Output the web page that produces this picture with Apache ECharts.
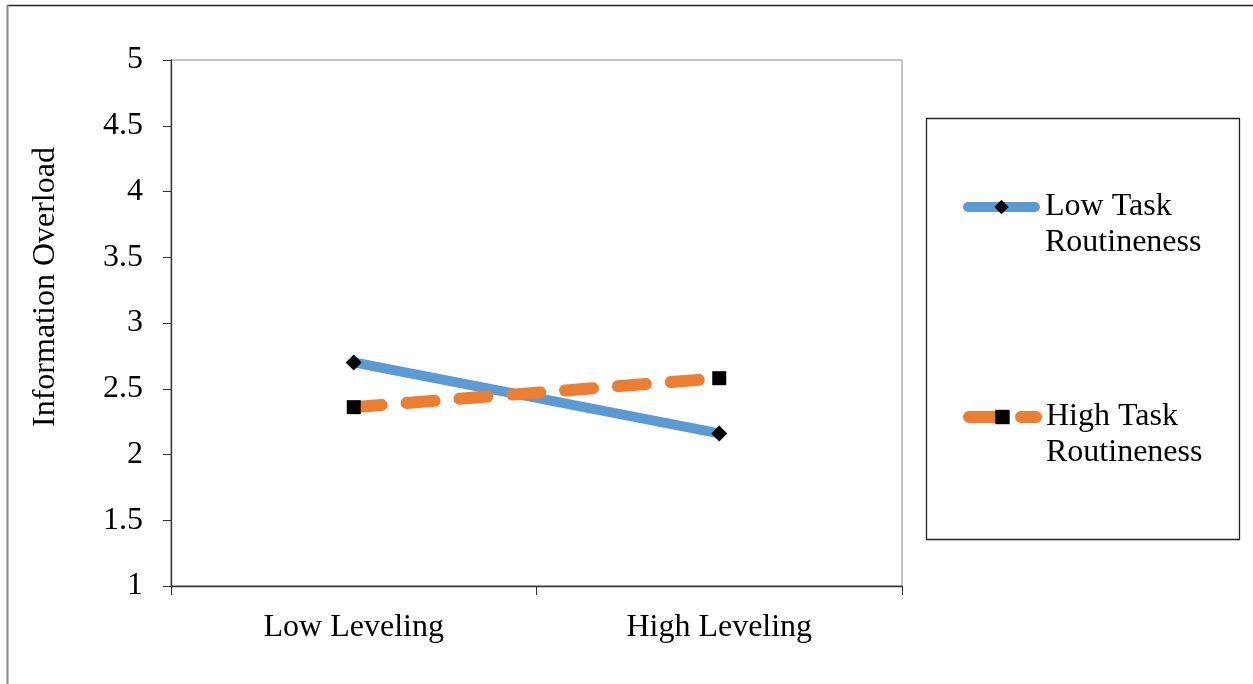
<!DOCTYPE html>
<html>
<head>
<meta charset="utf-8">
<script src="https://cdn.jsdelivr.net/npm/echarts@6/dist/echarts.min.js"></script>
<style>html,body{margin:0;padding:0;background:#fff;}#c{width:1253px;height:684px;}</style>
</head>
<body>
<div id="c"></div>
<script>
var categories = ['Low Leveling', 'High Leveling'];
var lowTaskRoutineness = [2.70, 2.16];
var highTaskRoutineness = [2.36, 2.58];
var yTicks = [1, 1.5, 2, 2.5, 3, 3.5, 4, 4.5, 5];
var seriesNames = ['Low Task Routineness', 'High Task Routineness'];
var yAxisTitle = 'Information Overload';

var FONT = '"Liberation Serif", "Times New Roman", serif';
var FS = 32;
var BLUE = '#5B9BD5', ORANGE = '#ED7D31';
var chart = echarts.init(document.getElementById('c'), null, {renderer: 'canvas'});

function legendFor(name, top, lineStyle) {
  return {
    data: [{name: name, lineStyle: lineStyle}], left: 963, top: top, orient: 'vertical', padding: 0,
    itemWidth: 67, itemHeight: 18, selectedMode: false,
    lineStyle: lineStyle,
    formatter: function (n) { return '\n' + n.replace(' Routineness', '\nRoutineness'); },
    textStyle: {fontFamily: FONT, fontSize: FS, color: '#000', lineHeight: 36, padding: [0, 0, 0, 5]}
  };
}

var blueLine = {color: BLUE, width: 10, cap: 'round'};
var orangeLine = {color: ORANGE, width: 12, type: [28, 25], cap: 'round'};

chart.setOption({
  animation: false,
  backgroundColor: '#fff',
  grid: {left: 171, right: 351, top: 60, bottom: 98, show: true, borderColor: '#888', borderWidth: 1},
  xAxis: {
    type: 'category', data: categories, boundaryGap: true,
    axisLine: {lineStyle: {color: '#333', width: 1.3}},
    axisTick: {show: true, length: 9, lineStyle: {color: '#333'}},
    axisLabel: {fontFamily: FONT, fontSize: FS, color: '#000', margin: 26}
  },
  yAxis: {
    type: 'value', min: yTicks[0], max: yTicks[yTicks.length - 1], interval: 0.5,
    name: yAxisTitle, nameLocation: 'middle', nameGap: 109, nameRotate: 90,
    nameTextStyle: {fontFamily: FONT, fontSize: FS, color: '#000', padding: [0, 0, 0, 72]},
    axisLine: {show: true, lineStyle: {color: '#333', width: 1.3}},
    axisTick: {show: true, length: 8, lineStyle: {color: '#333'}},
    splitLine: {show: false},
    axisLabel: {fontFamily: FONT, fontSize: FS, color: '#000', margin: 28}
  },
  legend: [legendFor(seriesNames[0], 153, {color: BLUE, width: 10, cap: 'round'}),
           legendFor(seriesNames[1], 363, {color: ORANGE, width: 12, type: [32, 20], cap: 'round'})],
  series: [
    {
      name: seriesNames[0], type: 'line', data: lowTaskRoutineness,
      symbol: 'diamond', symbolSize: 16,
      itemStyle: {color: '#000'},
      lineStyle: blueLine,
      color: BLUE
    },
    {
      name: seriesNames[1], type: 'line', data: highTaskRoutineness,
      symbol: 'rect', symbolSize: 14,
      itemStyle: {color: '#000'},
      lineStyle: orangeLine,
      color: ORANGE
    }
  ],
  graphic: [
    {type: 'line', shape: {x1: 7, y1: 5.5, x2: 1253, y2: 5.5}, style: {stroke: '#222', lineWidth: 1.5}, silent: true},
    {type: 'line', shape: {x1: 7.5, y1: 5, x2: 7.5, y2: 684}, style: {stroke: '#888', lineWidth: 2}, silent: true},
    {type: 'rect', shape: {x: 926.5, y: 118.5, width: 313, height: 421}, style: {fill: 'none', stroke: '#222', lineWidth: 1.3}, silent: true, z: -1}
  ]
});
</script>
</body>
</html>
